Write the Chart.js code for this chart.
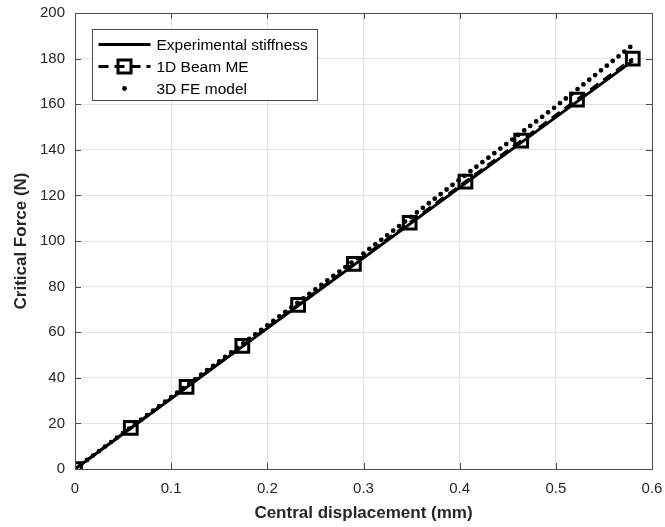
<!DOCTYPE html>
<html>
<head>
<meta charset="utf-8">
<script src="https://cdn.jsdelivr.net/npm/chart.js@4/dist/chart.umd.min.js"></script>
<style>
  html, body { margin: 0; padding: 0; background: #fff; }
  #wrap { width: 665px; height: 527px; position: relative; }
</style>
</head>
<body>
<div id="wrap"><canvas id="chart"></canvas></div>
<script>
'use strict';

// ── Data ───────────────────────────────────────────────────
const expX = [0, 0.58];
const expY = [0, 179];

const beamX = [0, 0.058, 0.116, 0.174, 0.232, 0.29, 0.348, 0.406, 0.464, 0.522, 0.58];
const beamY = [0, 18, 36, 54, 72, 90, 108, 126, 144, 162, 180];

const feX = [0, 0.1, 0.2, 0.3, 0.4, 0.5, 0.58];
const feY = [0, 31.5, 63, 94.5, 127, 159, 186];

const xTicks = [0, 0.1, 0.2, 0.3, 0.4, 0.5, 0.6];
const yTicks = [0, 20, 40, 60, 80, 100, 120, 140, 160, 180, 200];

const seriesLabels = ['Experimental stiffness', '1D Beam ME', '3D FE model'];

const pts = (xs, ys) => xs.map((x, i) => ({ x, y: ys[i] }));

const FONT = "'Liberation Sans', Arial, Helvetica, sans-serif";
const AXIS_COLOR = '#4d4d4d';
const TEXT_COLOR = '#262626';

// ── Box + inward ticks (MATLAB style) ──────────────────────
const boxPlugin = {
    id: 'box',
    afterDatasetsDraw(chart) {
        const { ctx, chartArea: a, scales: { x, y } } = chart;
        const tl = 6;
        ctx.save();
        ctx.strokeStyle = AXIS_COLOR;
        ctx.lineWidth = 1;
        ctx.beginPath();
        xTicks.forEach(v => {
            const px = Math.round(x.getPixelForValue(v)) + 0.5;
            ctx.moveTo(px, a.bottom); ctx.lineTo(px, a.bottom - tl);
            ctx.moveTo(px, a.top); ctx.lineTo(px, a.top + tl);
        });
        yTicks.forEach(v => {
            const py = Math.round(y.getPixelForValue(v)) + 0.5;
            ctx.moveTo(a.left, py); ctx.lineTo(a.left + tl, py);
            ctx.moveTo(a.right, py); ctx.lineTo(a.right - tl, py);
        });
        ctx.stroke();
        ctx.strokeRect(Math.round(a.left) + 0.5, Math.round(a.top) + 0.5,
            Math.round(a.right - a.left), Math.round(a.bottom - a.top));
        ctx.restore();
    },
};

// ── Legend drawn inside the axes ───────────────────────────
const legendPlugin = {
    id: 'innerLegend',
    afterDraw(chart) {
        const { ctx, chartArea: a } = chart;
        const bx = a.left + 17.5, by = a.top + 16.5, bw = 225, bh = 71;
        ctx.save();
        ctx.fillStyle = '#fff';
        ctx.fillRect(bx, by, bw, bh);
        ctx.strokeStyle = AXIS_COLOR;
        ctx.lineWidth = 1;
        ctx.strokeRect(bx, by, bw, bh);

        const x0 = bx + 6, x1 = bx + 58, xm = (x0 + x1) / 2;
        const rows = [by + 15, by + 37, by + 59];
        ctx.strokeStyle = '#000';
        ctx.fillStyle = '#000';
        ctx.lineWidth = 3;

        // solid
        ctx.beginPath(); ctx.moveTo(x0, rows[0]); ctx.lineTo(x1, rows[0]); ctx.stroke();
        // dashed + square
        ctx.setLineDash([10, 6]);
        ctx.beginPath(); ctx.moveTo(x0, rows[1]); ctx.lineTo(x1, rows[1]); ctx.stroke();
        ctx.setLineDash([]);
        ctx.strokeRect(xm - 6.5, rows[1] - 6.5, 13, 13);
        // dot
        ctx.beginPath(); ctx.arc(xm, rows[2], 2.4, 0, Math.PI * 2); ctx.fill();

        ctx.font = '15.5px ' + FONT;
        ctx.textBaseline = 'middle';
        ctx.fillStyle = '#000';
        seriesLabels.forEach((t, i) => ctx.fillText(t, bx + 64, rows[i] + 1));
        ctx.restore();
    },
};

// ── Chart ──────────────────────────────────────────────────
new Chart(document.getElementById('chart'), {
    type: 'scatter',
    data: {
        datasets: [
            {
                label: seriesLabels[0],
                data: pts(expX, expY),
                showLine: true,
                borderColor: '#000',
                borderWidth: 3,
                pointRadius: 0,
            },
            {
                label: seriesLabels[1],
                data: pts(beamX, beamY),
                showLine: true,
                borderColor: '#000',
                borderWidth: 3,
                borderDash: [10, 6],
                pointStyle: 'rect',
                pointRadius: 9,
                pointBorderWidth: 3,
                pointBorderColor: '#000',
                pointBackgroundColor: 'rgba(0,0,0,0)',
            },
            {
                label: seriesLabels[2],
                data: pts(feX, feY),
                showLine: true,
                borderColor: '#000',
                borderWidth: 4.8,
                borderDash: [0, 7.5],
                borderCapStyle: 'round',
                pointRadius: 0,
            },
        ],
    },
    options: {
        responsive: true,
        maintainAspectRatio: false,
        animation: false,
        layout: { padding: { top: 13, right: 13, left: 0, bottom: 0 } },
        plugins: { legend: { display: false }, tooltip: { enabled: false } },
        scales: {
            x: {
                type: 'linear',
                min: 0, max: 0.6,
                afterFit: s => { s.height = 58; s.paddingLeft = 0; s.paddingRight = 0; },
                afterBuildTicks: s => { s.ticks = xTicks.map(v => ({ value: v })); },
                border: { display: false },
                grid: { color: '#e3e3e3', drawTicks: false, lineWidth: 1 },
                ticks: {
                    padding: 11,
                    color: TEXT_COLOR,
                    font: { family: FONT, size: 15 },
                    maxRotation: 0,
                    callback: v => String(+v.toFixed(1)),
                },
                title: {
                    display: true,
                    text: 'Central displacement (mm)',
                    color: TEXT_COLOR,
                    font: { family: FONT, size: 17, weight: 'bold' },
                    padding: { top: 0, bottom: 3 },
                },
            },
            y: {
                type: 'linear',
                min: 0, max: 200,
                afterFit: s => { s.width = 75; s.paddingTop = 0; s.paddingBottom = 0; },
                afterBuildTicks: s => { s.ticks = yTicks.map(v => ({ value: v })); },
                border: { display: false },
                grid: { color: '#e3e3e3', drawTicks: false, lineWidth: 1 },
                ticks: {
                    padding: 10,
                    color: TEXT_COLOR,
                    font: { family: FONT, size: 15 },
                },
                title: {
                    display: true,
                    text: 'Critical Force (N)',
                    color: TEXT_COLOR,
                    font: { family: FONT, size: 17, weight: 'bold' },
                    padding: { top: 11, bottom: 0 },
                },
            },
        },
    },
    plugins: [boxPlugin, legendPlugin],
});
</script>
</body>
</html>
